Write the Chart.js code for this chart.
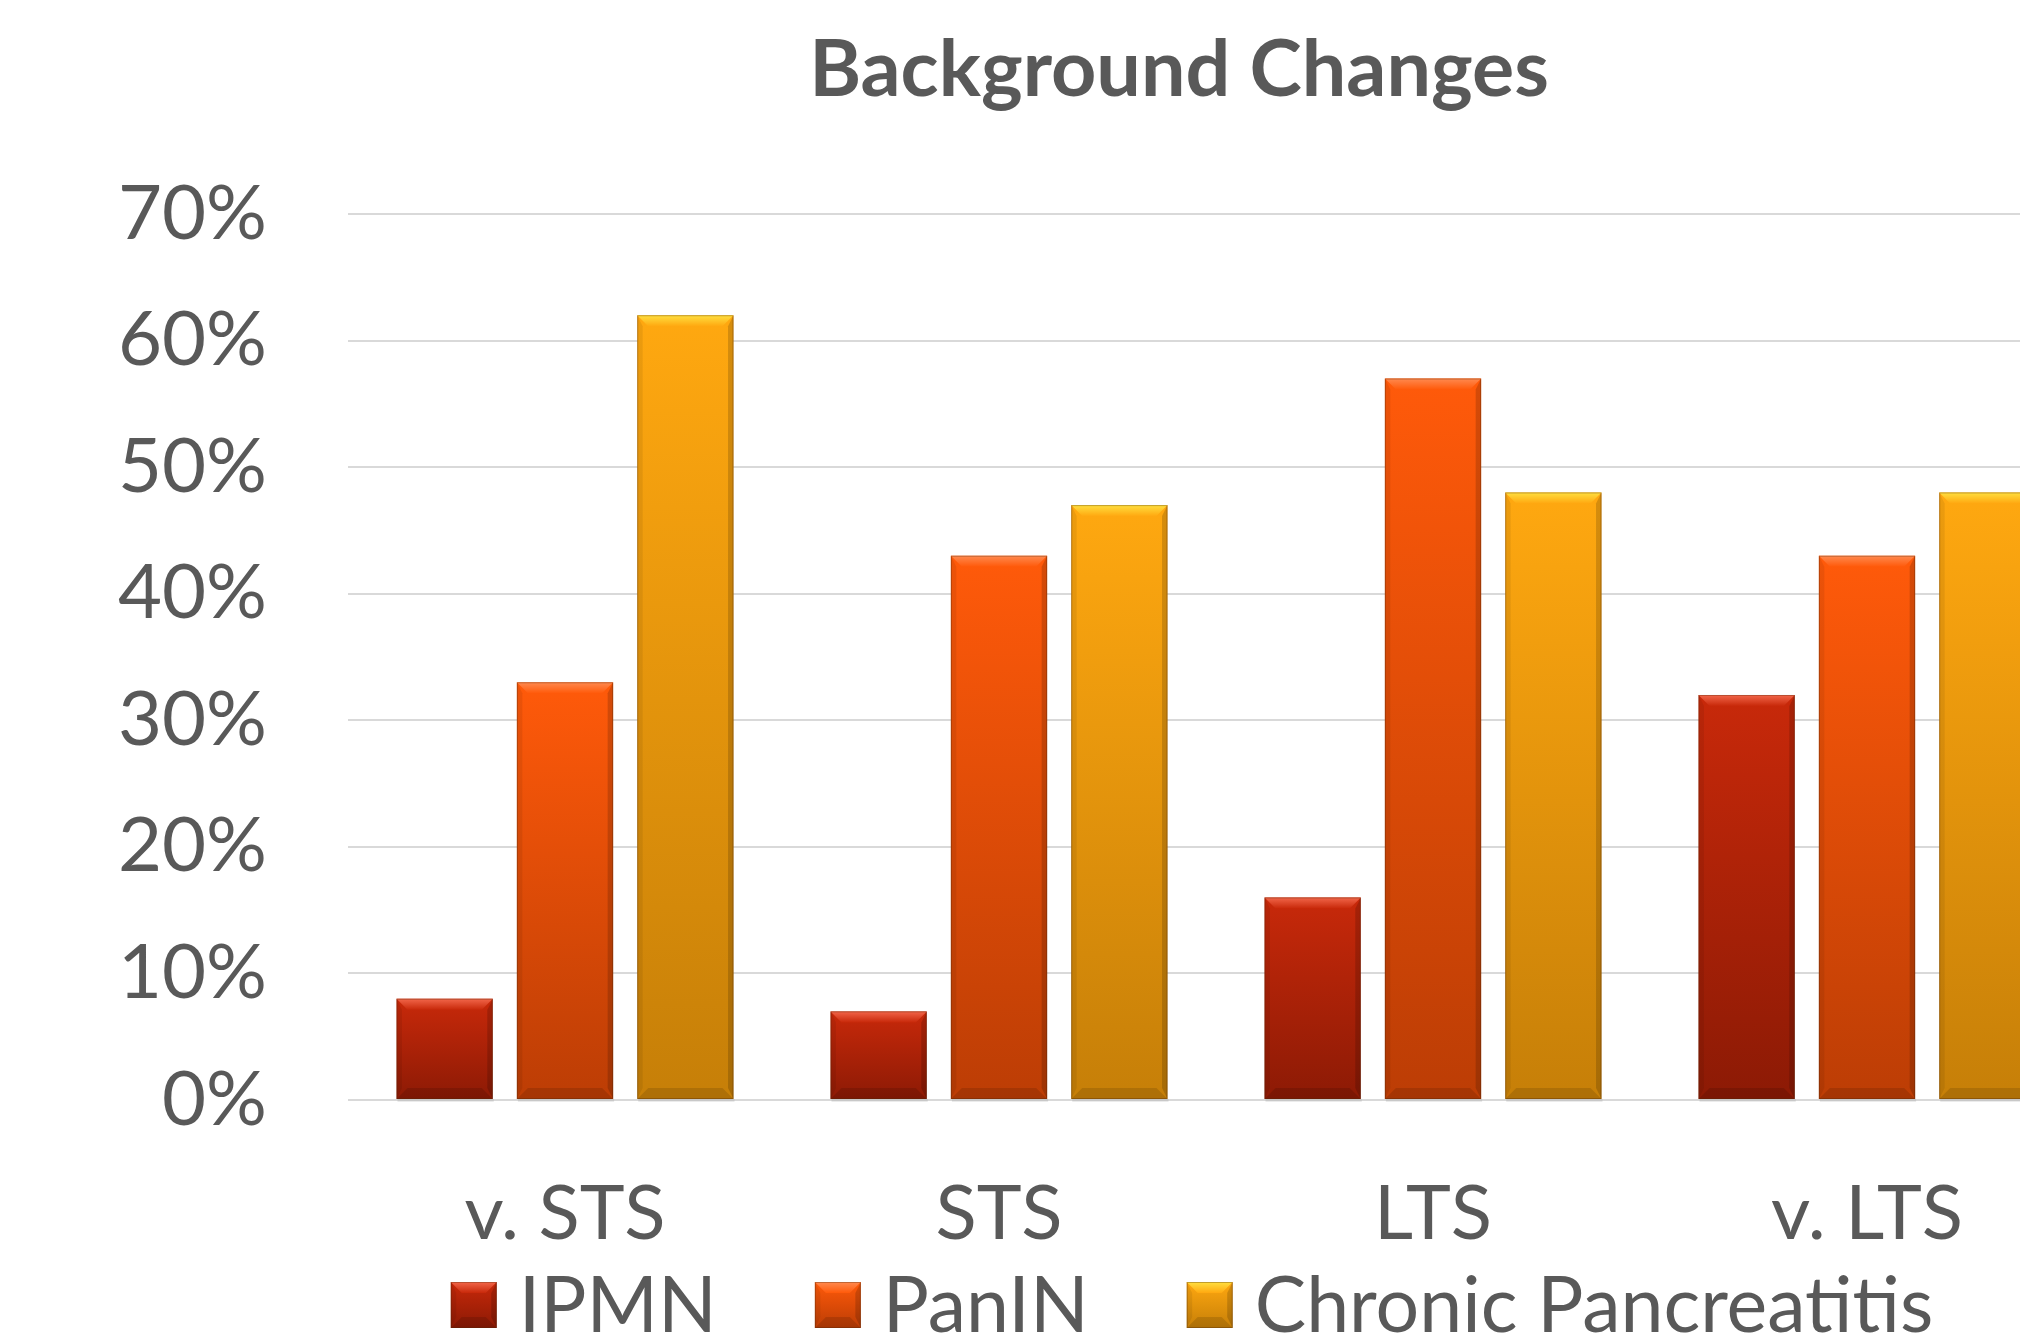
<!DOCTYPE html>
<html>
<head>
<meta charset="utf-8">
<script src="https://cdn.jsdelivr.net/npm/chart.js@4.4.1/dist/chart.umd.min.js"></script>
<style>
  html, body { margin: 0; padding: 0; background: #fff; overflow: hidden; width: 2020px; height: 1341px; }
  #wrap { position: relative; width: 2364px; height: 1341px; }
</style>
</head>
<body>
<div id="wrap"><canvas id="c" width="2364" height="1341"></canvas></div>
<script>
// Survival groups and share of cases with each background change
const categories = ['v. STS', 'STS', 'LTS', 'v. LTS'];
const seriesNames = ['IPMN', 'PanIN', 'Chronic Pancreatitis'];
const ipmn = [0.08, 0.07, 0.16, 0.32];
const panin = [0.33, 0.43, 0.57, 0.43];
const chronicPancreatitis = [0.62, 0.47, 0.48, 0.48];
const yMax = 0.7;
const yStep = 0.1;
const chartTitle = 'Background Changes';

const FONT = 'Lato, "Open Sans", sans-serif';
const TEXT = '#595959';

// top / bottom gradient stops, bevel highlight
const palettes = [
  { top: '#C8290A', bottom: '#8C1A05', hi: '#F2664A' },
  { top: '#FF5A0A', bottom: '#BC3D05', hi: '#FF8A50' },
  { top: '#FFA810', bottom: '#C67F08', hi: '#FFE040' }
];

function barFill(pal) {
  return (ctx) => {
    const chart = ctx.chart;
    const y = chart.scales && chart.scales.y;
    if (!y || typeof ctx.raw !== 'number') return pal.top;
    const t = y.getPixelForValue(ctx.raw);
    const b = y.getPixelForValue(0);
    if (!isFinite(t) || !isFinite(b) || b - t < 1) return pal.top;
    const g = chart.ctx.createLinearGradient(0, t, 0, b);
    g.addColorStop(0, pal.top);
    g.addColorStop(1, pal.bottom);
    return g;
  };
}

function drawBevel(ctx, l, t, r, bot, pal) {
  const w = r - l, h = bot - t;
  const b = Math.min(11, w / 4, h / 3);
  ctx.save();
  // top facet
  const g = ctx.createLinearGradient(0, t, 0, t + b);
  g.addColorStop(0, pal.hi);
  g.addColorStop(1, pal.top);
  ctx.fillStyle = g;
  ctx.beginPath();
  ctx.moveTo(l, t); ctx.lineTo(r, t); ctx.lineTo(r - b, t + b); ctx.lineTo(l + b, t + b);
  ctx.closePath(); ctx.fill();
  // side facets
  ctx.fillStyle = 'rgba(0,0,0,0.07)';
  ctx.beginPath();
  ctx.moveTo(l, t); ctx.lineTo(l + b * 0.5, t + b); ctx.lineTo(l + b * 0.5, bot - b); ctx.lineTo(l, bot);
  ctx.closePath(); ctx.fill();
  ctx.fillStyle = 'rgba(0,0,0,0.16)';
  ctx.beginPath();
  ctx.moveTo(r, t); ctx.lineTo(r - b * 0.5, t + b); ctx.lineTo(r - b * 0.5, bot - b); ctx.lineTo(r, bot);
  ctx.closePath(); ctx.fill();
  // bottom facet
  ctx.fillStyle = 'rgba(0,0,0,0.12)';
  ctx.beginPath();
  ctx.moveTo(l, bot); ctx.lineTo(r, bot); ctx.lineTo(r - b, bot - b); ctx.lineTo(l + b, bot - b);
  ctx.closePath(); ctx.fill();
  // outline
  ctx.strokeStyle = 'rgba(80,40,10,0.35)';
  ctx.lineWidth = 1;
  ctx.strokeRect(l + 0.5, t + 0.5, w - 1, h - 1);
  ctx.restore();
}

const bevelPlugin = {
  id: 'bevel',
  afterDatasetsDraw(chart) {
    const ctx = chart.ctx;
    chart.getSortedVisibleDatasetMetas().forEach((meta) => {
      const pal = palettes[meta.index];
      meta.data.forEach((bar) => {
        const p = bar.getProps(['x', 'y', 'width', 'base'], true);
        const l = p.x - p.width / 2, r = p.x + p.width / 2;
        ctx.save();
        ctx.fillStyle = 'rgba(0,0,0,0.08)';
        ctx.fillRect(l + 1, p.base, p.width, 3);
        ctx.restore();
        drawBevel(ctx, l, p.y, r, p.base, pal);
      });
    });
  }
};

// Title centred on the full canvas width (the plot area is inset on the right)
const titlePlugin = {
  id: 'centredTitle',
  afterDraw(chart) {
    const ctx = chart.ctx;
    ctx.save();
    ctx.font = `bold 79px ${FONT}`;
    ctx.fillStyle = TEXT;
    ctx.textAlign = 'center';
    ctx.textBaseline = 'middle';
    ctx.fillText(chartTitle, chart.width / 2 - 3, 71);
    ctx.restore();
  }
};

const legendPlugin = {
  id: 'bottomLegend',
  afterDraw(chart) {
    const ctx = chart.ctx;
    const box = 46, gapText = 22, spacing = 98, size = 77;
    ctx.save();
    ctx.font = `${size}px ${FONT}`;
    const names = chart.data.datasets.map((d) => d.label);
    const widths = names.map((n) => ctx.measureText(n).width);
    const total = widths.reduce((s, w) => s + box + gapText + w, 0) + spacing * (names.length - 1);
    let x = chart.width / 2 + 10 - total / 2;
    const cy = chart.height - 36;
    names.forEach((n, i) => {
      const pal = palettes[i];
      const t = cy - box / 2, b = cy + box / 2;
      const g = ctx.createLinearGradient(0, t, 0, b);
      g.addColorStop(0, pal.top);
      g.addColorStop(1, pal.bottom);
      ctx.fillStyle = g;
      ctx.fillRect(x, t, box, box);
      drawBevel(ctx, x, t, x + box, b, pal);
      ctx.fillStyle = TEXT;
      ctx.textBaseline = 'middle';
      ctx.textAlign = 'left';
      ctx.fillText(n, x + box + gapText, cy + 2);
      x += box + gapText + widths[i] + spacing;
    });
    ctx.restore();
  }
};

const seriesValues = [ipmn, panin, chronicPancreatitis];

new Chart(document.getElementById('c'), {
  type: 'bar',
  data: {
    labels: categories,
    datasets: seriesNames.map((name, i) => ({
      label: name,
      data: seriesValues[i],
      backgroundColor: barFill(palettes[i]),
      borderWidth: 0,
      barPercentage: 0.8,
      categoryPercentage: 0.832
    }))
  },
  options: {
    responsive: false,
    animation: false,
    devicePixelRatio: 1,
    layout: { padding: { left: 0, right: 280, top: 214, bottom: 91 } },
    plugins: {
      legend: { display: false },
      tooltip: { enabled: false },
      title: { display: false }
    },
    scales: {
      x: {
        grid: { display: false },
        border: { display: false },
        ticks: { color: TEXT, font: { family: FONT, size: 76 }, padding: 61, maxRotation: 0 },
        afterFit: (s) => { s.height = 150; }
      },
      y: {
        min: 0,
        max: yMax,
        grid: { color: '#D9D9D9', lineWidth: 2, drawTicks: false },
        border: { display: false },
        ticks: {
          stepSize: yStep,
          color: TEXT,
          font: { family: FONT, size: 76 },
          padding: 81,
          callback: (v) => Math.round(v * 100) + '%'
        },
        afterFit: (s) => { s.width = 348; }
      }
    }
  },
  plugins: [bevelPlugin, titlePlugin, legendPlugin]
});
</script>
</body>
</html>
